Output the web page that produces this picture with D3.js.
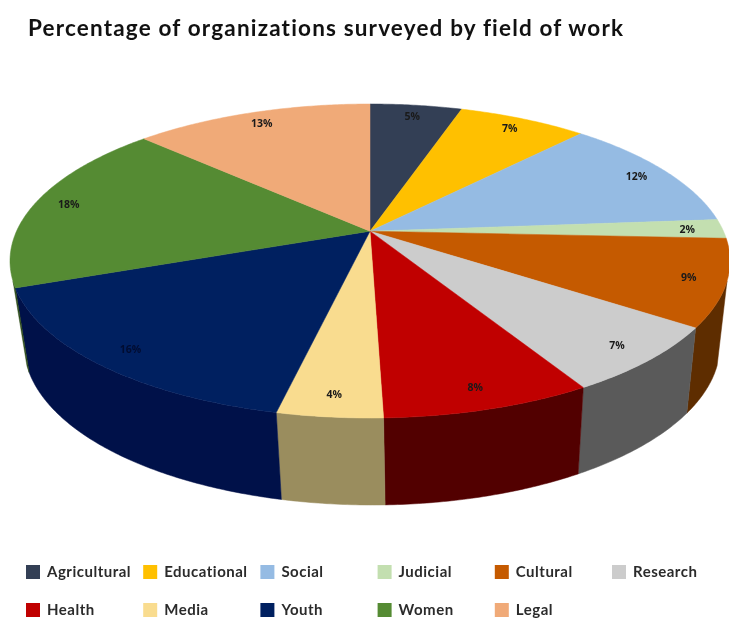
<!DOCTYPE html>
<html><head><meta charset="utf-8">
<script src="https://cdnjs.cloudflare.com/ajax/libs/d3/7.8.5/d3.min.js"></script>
<style>html,body{margin:0;background:#fff}svg{display:block;filter:blur(.45px)}</style></head>
<body><svg width="729" height="619"></svg>
<script>
const categories=["Agricultural","Educational","Social","Judicial","Cultural","Research","Health","Media","Youth","Women","Legal"];
const values=[5,7,12,2,9,7,8,4,16,18,13];
const topColors=["#333f55","#ffc000","#95bbe3","#c3dfb0","#c55a00","#cccccc","#c00000","#f9dc8f","#002060","#558b33","#f0aa78"];
const wallColors=["#1d2533","#8a6800","#50667c","#6a7a60","#5e2d00","#5a5a5a","#520000","#9a8d5e","#001149","#2e4d1b","#84603f"];
const legendCols=[0,1,2,3,4,5];
const title="Percentage of organizations surveyed by field of work";

const svg=d3.select("svg");
const persp=0.19;
const top_={cx:370,cy:261,rx:360,ry:157};
const bot={cx:372,cy:345,rx:348,ry:160};
// perspective projection of a point of the pie's disc into the unit ellipse
function project(theta,r){
  const u=r*Math.sin(theta),v=-r*Math.cos(theta),w=1-persp*v;
  return [u*Math.sqrt(1-persp*persp)/w,(v-persp)/w];
}
const onto=(e,p)=>[e.cx+e.rx*p[0],e.cy+e.ry*p[1]];
const line=d3.line();
const arcs=d3.pie().sort(null).startAngle(0).endAngle(2*Math.PI)(values);
const samples=a=>{const n=Math.max(2,Math.ceil((a.endAngle-a.startAngle)/0.01));
  return d3.range(n+1).map(i=>a.startAngle+(a.endAngle-a.startAngle)*i/n);};

svg.append("g").selectAll("path").data(arcs).join("path")
  .attr("d",a=>{
    const th=samples(a).filter(t=>project(t,1)[1]>0.12);
    if(th.length<2)return null;
    const up=th.map(t=>onto(top_,project(t,1)));
    const dn=th.map(t=>onto(bot,project(t,1))).reverse();
    return line(up.concat(dn))+"Z";
  })
  .attr("fill",(a,i)=>wallColors[i]).attr("stroke",(a,i)=>wallColors[i]).attr("stroke-width",.5);

svg.append("g").selectAll("path").data(arcs).join("path")
  .attr("d",a=>line([onto(top_,project(0,0))].concat(samples(a).map(t=>onto(top_,project(t,1)))))+"Z")
  .attr("fill",(a,i)=>topColors[i]).attr("stroke",(a,i)=>topColors[i]).attr("stroke-width",.5);

svg.append("g").selectAll("text").data(arcs).join("text")
  .attr("transform",a=>{const p=onto(top_,project((a.startAngle+a.endAngle)/2,.9));return `translate(${p[0]},${p[1]})`;})
  .attr("text-anchor","middle").attr("dy","0.35em")
  .attr("font-family","'Open Sans',sans-serif").attr("font-size",10.5).attr("font-weight",700)
  .attr("fill",(a,i)=>i===8?"#000c30":"#1a1a1a")
  .text(a=>a.value+"%");

svg.append("text").attr("x",28).attr("y",36)
  .attr("font-family","Lato,sans-serif").attr("font-weight",700).attr("font-size",22.5)
  .attr("letter-spacing",1.17).attr("fill","#111").text(title);

const xCol=d3.scaleLinear().domain([0,5]).range([26,612]);
const yRow=d3.scaleLinear().domain([0,1]).range([572,610]);
const item=svg.append("g").selectAll("g").data(categories).join("g")
  .attr("transform",(d,i)=>`translate(${xCol(legendCols[i%6])},${yRow(Math.floor(i/6))})`);
item.append("rect").attr("y",-7).attr("width",14).attr("height",14).attr("fill",(d,i)=>topColors[i]);
item.append("text").attr("x",21).attr("dy","0.32em")
  .attr("font-family","Lato,sans-serif").attr("font-weight",700).attr("font-size",15)
  .attr("letter-spacing",.5).attr("fill","#2b2b2b").text(d=>d);
</script></body></html>
